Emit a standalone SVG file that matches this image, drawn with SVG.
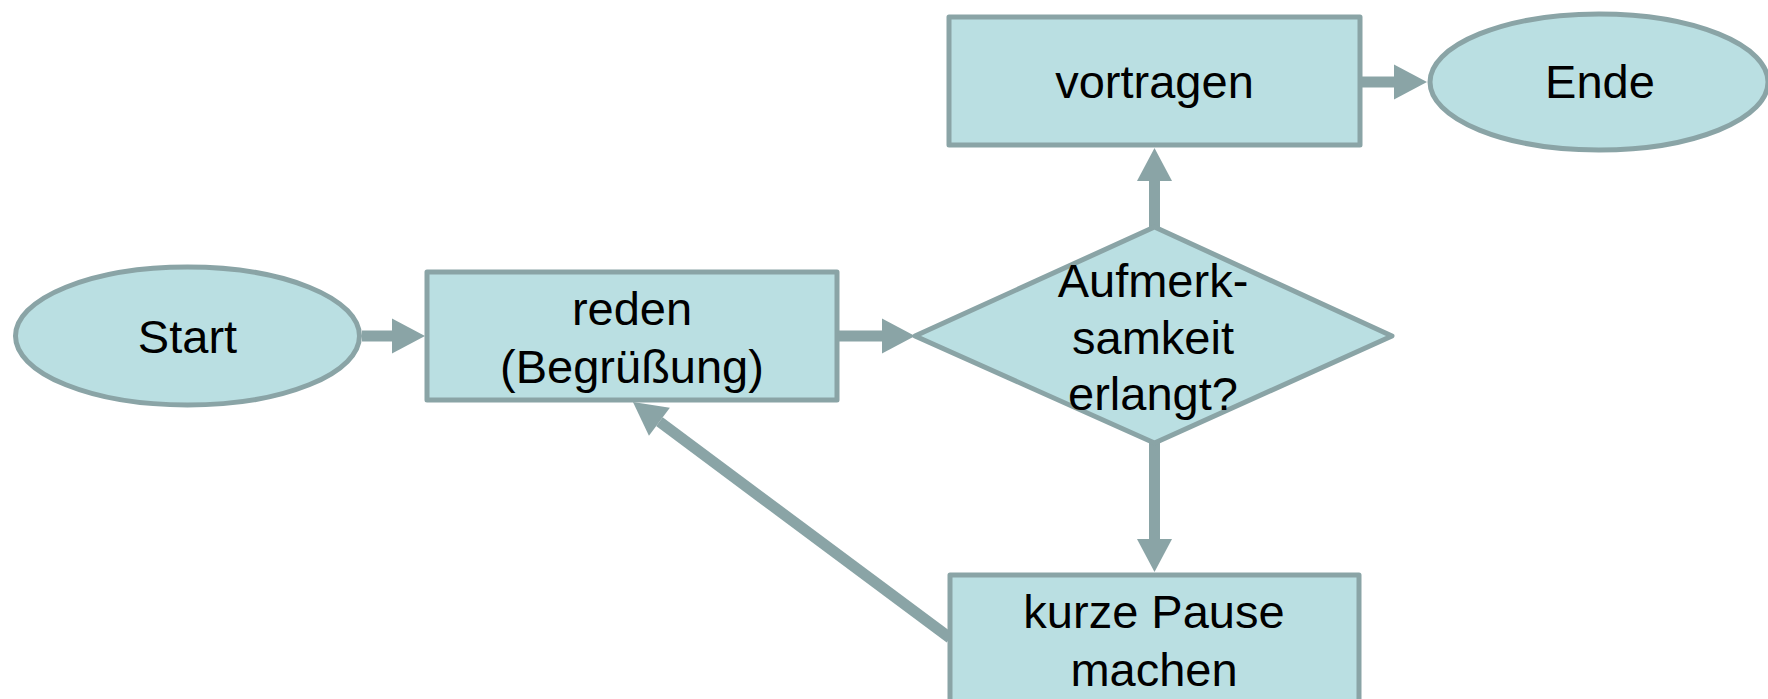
<svg xmlns="http://www.w3.org/2000/svg" width="1768" height="699" viewBox="0 0 1768 699">
  <defs>
    <style>
      .shape { fill: #BADFE2; stroke: #8AA4A6; stroke-width: 5; stroke-linejoin: round; }
      .label { font-family: "Liberation Sans", Arial, sans-serif; font-size: 47px; fill: #000; text-anchor: middle; }
      .edge { stroke: #8AA4A6; stroke-width: 11; fill: none; marker-end: url(#head); }
    </style>
    <!-- solid triangular arrowhead, drawn past the end of each shaft -->
    <marker id="head" markerUnits="userSpaceOnUse" markerWidth="34" markerHeight="36" refX="0" refY="17.5" orient="auto" overflow="visible">
      <path d="M0,0 L33,17.5 L0,35 Z" fill="#8AA4A6"/>
    </marker>
  </defs>

  <rect width="1768" height="699" fill="#ffffff"/>

  <g id="connectors">
    <line class="edge" x1="362" y1="336" x2="392" y2="336"/>
    <line class="edge" x1="839" y1="336" x2="882" y2="336"/>
    <line class="edge" x1="1154.5" y1="228" x2="1154.5" y2="181"/>
    <line class="edge" x1="1362" y1="82" x2="1394" y2="82"/>
    <line class="edge" x1="1154.5" y1="443" x2="1154.5" y2="539"/>
    <line class="edge" x1="950" y1="638" x2="659.4" y2="421.7"/>
  </g>

  <g id="start">
    <ellipse class="shape" cx="187.5" cy="336" rx="172" ry="69"/>
    <text class="label" x="187.5" y="353">Start</text>
  </g>

  <g id="reden">
    <rect class="shape" x="427" y="272" width="410" height="128"/>
    <text class="label" x="632" y="325">reden</text>
    <text class="label" x="632" y="383">(Begrüßung)</text>
  </g>

  <g id="aufmerksamkeit">
    <polygon class="shape" points="915,336 1154.5,227 1392,336 1154.5,443"/>
    <text class="label" x="1153" y="297">Aufmerk-</text>
    <text class="label" x="1153" y="354">samkeit</text>
    <text class="label" x="1153" y="410">erlangt?</text>
  </g>

  <g id="vortragen">
    <rect class="shape" x="949" y="17" width="411" height="128"/>
    <text class="label" x="1154.5" y="98">vortragen</text>
  </g>

  <g id="ende">
    <ellipse class="shape" cx="1599" cy="82" rx="169" ry="68"/>
    <text class="label" x="1600" y="98">Ende</text>
  </g>

  <g id="pause">
    <rect class="shape" x="950" y="575" width="409" height="128"/>
    <text class="label" x="1154" y="628">kurze Pause</text>
    <text class="label" x="1154" y="686">machen</text>
  </g>
</svg>
